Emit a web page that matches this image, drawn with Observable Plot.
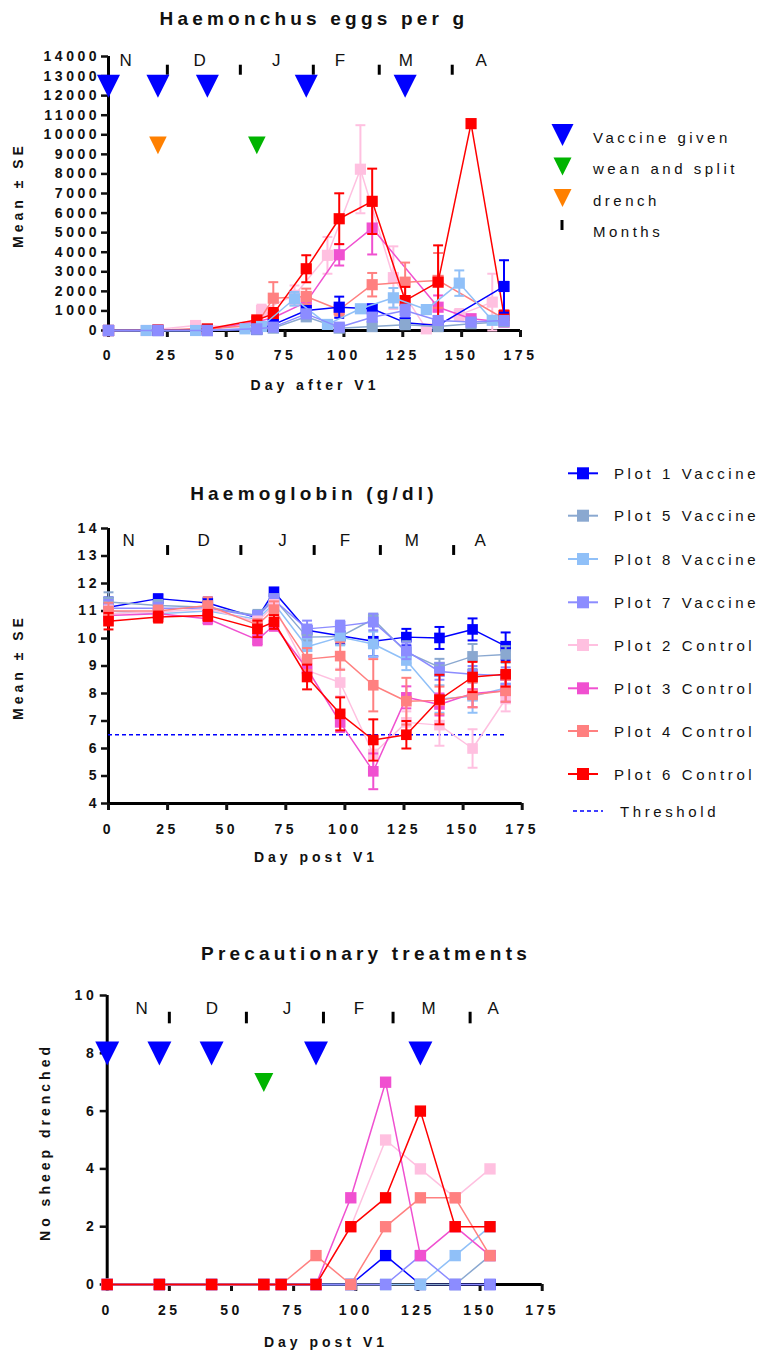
<!DOCTYPE html>
<html>
<head>
<meta charset="utf-8">
<script src="https://cdn.jsdelivr.net/npm/d3@7"></script>
<script src="https://cdn.jsdelivr.net/npm/@observablehq/plot@0.6"></script>
<style>
  body { margin: 0; background: #fff; }
  #root { position: relative; width: 758px; height: 1356px; overflow: hidden; background: #fff; }
  #overlay { position: absolute; left: 0; top: 0; pointer-events: none; }
</style>
</head>
<body>
<div id="root"></div>
<script>
// ---------------- DATA ----------------
const seriesNames = ["Plot 1 Vaccine", "Plot 5 Vaccine", "Plot 8 Vaccine", "Plot 7 Vaccine",
                     "Plot 2 Control", "Plot 3 Control", "Plot 4 Control", "Plot 6 Control"];
const xTicks = [0, 25, 50, 75, 100, 125, 150, 175];
const monthLetters = ["N", "D", "J", "F", "M", "A"];
const monthTickDays = [25, 56, 87, 115, 146];
const vaccineDays = [0, 21, 42, 84, 126];
const weanDays = [63];
const drenchDays = [21];

// Chart 1: Haemonchus eggs per g (mean ± SE)
const eggTicks = [0,1000,2000,3000,4000,5000,6000,7000,8000,9000,10000,11000,12000,13000,14000];
const eggLetterDays = [8, 39.5, 72, 99, 127, 159];
const eggDays = [0, 21, 42, 63, 70, 84, 98, 112, 126, 140, 154, 168];
const eggDaysEarly = [0, 16, 37, 58, 65, 79, 93, 107, 121, 135, 149, 163];
const eggP1 = [0, 0, 0, 50, 300, 1020, 1190, 1110, 400, 260, null, 2250];
const eggP1se = [0, 0, 0, 20, 80, 150, 540, 200, 150, 100, 0, 1340];
const eggP5 = [0, 0, 0, 60, 120, 700, 120, 200, 300, 200, 350, 450];
const eggP5se = [0, 0, 0, 20, 40, 150, 50, 80, 100, 80, 100, 150];
const eggP8 = [0, 0, 0, 85, 205, 1620, 310, 1110, 1670, 1070, 2420, 520];
const eggP8se = [0, 0, 0, 30, 60, 350, 100, 150, 500, 150, 650, 150];
const eggP7 = [0, 0, 0, 85, 170, 850, 170, 680, 1020, 510, 430, 510];
const eggP7se = [0, 0, 0, 30, 50, 200, 80, 150, 300, 150, 100, 150];
const eggP2 = [0, 0, 255, 170, 1020, 1800, 3840, 8240, 2700, 85, 800, 1450];
const eggP2se = [0, 0, 80, 80, 300, 500, 940, 2250, 1600, 100, 300, 1450];
const eggP3 = [0, 10, 40, 450, 650, 1450, 3870, 5235, null, 1190, 600, 430];
const eggP3se = [0, 5, 20, 100, 200, 400, 550, 1350, 0, 600, 200, 150];
const eggP4 = [0, 10, 60, 300, 1650, 1740, 1060, 2340, 2470, 2560, null, 600];
const eggP4se = [0, 5, 20, 100, 820, 400, 300, 600, 1000, 1400, 0, 200];
const eggP6 = [0, 20, 80, 540, 850, 3155, 5710, 6600, 1530, 2470, 10570, 770];
const eggP6se = [0, 10, 30, 150, 300, 690, 1300, 1670, 700, 1880, 0, 250];

// Chart 2: Haemoglobin (g/dl)
const hbTicks = [4, 5, 6, 7, 8, 9, 10, 11, 12, 13, 14];
const hbLetterDays = [9.3, 41, 74.3, 100.8, 129, 158];
const hbThreshold = 6.5;
const hbThresholdEnd = 168;
const hbDays = [0, 21, 42, 63, 70, 84, 98, 112, 126, 140, 154, 168];
const hbP1 = [11.14, 11.45, 11.29, 10.75, 11.7, 10.3, 10.1, 9.9, 10.05, 10.02, 10.33, 9.72];
const hbP1se = [0.35, 0.15, 0.2, 0.2, 0.1, 0.15, 0.3, 0.55, 0.3, 0.4, 0.4, 0.5];
const hbP5 = [11.33, 11.2, 11.14, 10.84, 11.45, 10.05, 10.07, 10.7, 9.5, 8.96, 9.35, 9.42];
const hbP5se = [0.35, 0.2, 0.2, 0.2, 0.15, 0.4, 0.3, 0.2, 0.4, 0.3, 0.45, 0.3];
const hbP8 = [11.0, 10.9, 11.0, 10.7, 11.27, 9.7, 10.05, 9.8, 9.2, 7.8, 7.9, 8.2];
const hbP8se = [0.3, 0.2, 0.2, 0.2, 0.2, 0.3, 0.3, 0.45, 0.35, 0.5, 0.6, 0.3];
const hbP7 = [11.1, 11.1, 11.1, 10.8, 11.4, 10.35, 10.45, 10.6, 9.55, 8.8, 8.7, 8.65];
const hbP7se = [0.3, 0.2, 0.2, 0.2, 0.2, 0.3, 0.2, 0.3, 0.3, 0.3, 0.3, 0.3];
const hbP2 = [10.9, 10.96, 11.08, 10.6, 11.2, 8.84, 8.4, 5.8, 6.95, 6.85, 6.0, 7.8];
const hbP2se = [0.3, 0.2, 0.2, 0.2, 0.2, 0.3, 0.5, 0.6, 0.4, 0.75, 0.7, 0.45];
const hbP3 = [10.84, 10.9, 10.72, 9.95, 10.48, 8.9, 6.95, 5.17, 7.86, 7.6, 8.0, 8.1];
const hbP3se = [0.2, 0.2, 0.2, 0.2, 0.2, 0.3, 0.35, 0.65, 0.4, 0.4, 0.5, 0.4];
const hbP4 = [11.0, 11.0, 11.2, 10.5, 11.05, 9.25, 9.36, 8.3, 7.72, 7.75, 7.95, 8.1];
const hbP4se = [0.3, 0.2, 0.3, 0.2, 0.3, 0.4, 0.5, 0.95, 0.85, 0.5, 0.45, 0.4];
const hbP6 = [10.63, 10.78, 10.84, 10.35, 10.6, 8.6, 7.26, 6.31, 6.5, 7.78, 8.6, 8.7];
const hbP6se = [0.3, 0.2, 0.2, 0.3, 0.25, 0.45, 0.6, 0.75, 0.5, 0.9, 0.55, 0.45];

// Chart 3: Precautionary treatments (no. sheep drenched)
const drTicks = [0, 2, 4, 6, 8, 10];
const drLetterDays = [14.6, 42.8, 73, 102, 130, 156];
const drDays = [0, 21, 42, 63, 70, 84, 98, 112, 126, 140, 154];
const drP1 = [0, 0, 0, 0, 0, 0, 0, 1, 0, 0, 0];
const drP5 = [0, 0, 0, 0, 0, 0, 0, 0, 0, 0, 1];
const drP8 = [0, 0, 0, 0, 0, 0, 0, 0, 0, 1, 2];
const drP7 = [0, 0, 0, 0, 0, 0, 0, 0, 1, 0, 0];
const drP2 = [0, 0, 0, 0, 0, 0, 2, 5, 4, 3, 4];
const drP3 = [0, 0, 0, 0, 0, 0, 3, 7, 1, 2, 1];
const drP4 = [0, 0, 0, 0, 0, 1, 0, 2, 3, 3, 1];
const drP6 = [0, 0, 0, 0, 0, 0, 2, 3, 6, 2, 2];

// ---------------- STYLE ----------------
const colors = {
  "Plot 1 Vaccine": "#0000ff", "Plot 5 Vaccine": "#8aa8d0", "Plot 8 Vaccine": "#90c0f8",
  "Plot 7 Vaccine": "#8c8cff", "Plot 2 Control": "#ffc0e0", "Plot 3 Control": "#f050d0",
  "Plot 4 Control": "#ff8080", "Plot 6 Control": "#ff0000"
};
const FONT = "'Liberation Sans', Arial, Helvetica, sans-serif";

function rows(days, vals, se) {
  return days.map((d, i) => ({day: d, v: vals[i], se: se ? se[i] : 0})).filter(r => r.v != null);
}

const downTri = {draw(ctx, size) { const w = Math.sqrt(size); ctx.moveTo(-w/2, -w/2); ctx.lineTo(w/2, -w/2); ctx.lineTo(0, w/2); ctx.closePath(); }};
const capSym = {draw(ctx, size) { const w = Math.sqrt(size); ctx.moveTo(-w/2, 0); ctx.lineTo(w/2, 0); }};

function seriesMarks(data, color, o) {
  const withSE = data.filter(d => d.se > 0);
  return [
    Plot.line(data, {x: "day", y: "v", stroke: color, strokeWidth: o.lw}),
    Plot.ruleX(withSE, {x: "day", y1: d => Math.max(o.ymin, d.v - d.se), y2: d => d.v + d.se, stroke: color, strokeWidth: 2}),
    Plot.dot(withSE, {x: "day", y: d => d.v + d.se, symbol: capSym, r: 5.6, stroke: color, strokeWidth: 2, fill: "none"}),
    Plot.dot(withSE, {x: "day", y: d => Math.max(o.ymin, d.v - d.se), symbol: capSym, r: 5.6, stroke: color, strokeWidth: 2, fill: "none"}),
    Plot.dot(data, {x: "day", y: "v", symbol: "square", r: o.sq, fill: color, stroke: "none"})
  ];
}

function baseStyle(top, left) {
  return {position: "absolute", top: top + "px", left: left + "px", fontFamily: FONT, fontSize: "14px",
          fontWeight: "bold", letterSpacing: "3.5px", color: "#111", background: "transparent", overflow: "visible"};
}

function axesMarks(yTicks, yMax, xPad, yPad) {
  return [
    Plot.ruleX([0], {y1: 0, y2: yMax, strokeWidth: 3, stroke: "#000"}),
    Plot.ruleY([0], {x1: 0, x2: 175, strokeWidth: 3, stroke: "#000"}),
    Plot.axisY({ticks: yTicks, tickSize: 7, tickPadding: yPad, strokeWidth: 2.5, tickFormat: "d", label: null, fill: "#111"}),
    Plot.axisX({ticks: xTicks, tickSize: 7, tickPadding: xPad, strokeWidth: 3, tickFormat: "d", label: null, fill: "#111"})
  ];
}

function monthMarks(letterDays, tickY1, tickY2, letterY) {
  return [
    Plot.ruleX(monthTickDays, {y1: tickY1, y2: tickY2, strokeWidth: 3, stroke: "#000"}),
    Plot.text(monthLetters, {x: letterDays, y: letterY, text: d => d, fontSize: 17, fontWeight: "normal", fill: "#111"})
  ];
}

const root = document.getElementById("root");

// ---------- Chart 1 ----------
const eggSeries = {
  "Plot 1 Vaccine": rows(eggDays, eggP1, eggP1se), "Plot 5 Vaccine": rows(eggDays, eggP5, eggP5se),
  "Plot 8 Vaccine": rows(eggDaysEarly, eggP8, eggP8se), "Plot 7 Vaccine": rows(eggDays, eggP7, eggP7se),
  "Plot 2 Control": rows(eggDaysEarly, eggP2, eggP2se), "Plot 3 Control": rows(eggDays, eggP3, eggP3se),
  "Plot 4 Control": rows(eggDays, eggP4, eggP4se), "Plot 6 Control": rows(eggDays, eggP6, eggP6se)
};
const eggOrder = ["Plot 2 Control", "Plot 3 Control", "Plot 4 Control", "Plot 6 Control",
                  "Plot 1 Vaccine", "Plot 5 Vaccine", "Plot 8 Vaccine", "Plot 7 Vaccine"];
root.appendChild(Plot.plot({
  width: 540, height: 372, marginLeft: 108, marginRight: 20, marginTop: 56, marginBottom: 42,
  x: {domain: [0, 175]}, y: {domain: [0, 14000]},
  style: baseStyle(0, 0),
  marks: [
    ...axesMarks(eggTicks, 14000, 13, 1.5),
    ...monthMarks(eggLetterDays, 13043, 13555, 13775),
    Plot.dot(vaccineDays, {x: d => d, y: 12480, symbol: downTri, r: 13, fill: "#0000ff"}),
    Plot.dot(drenchDays, {x: d => d, y: 9460, symbol: downTri, r: 9.9, fill: "#ff8000"}),
    Plot.dot(weanDays, {x: d => d, y: 9460, symbol: downTri, r: 9.9, fill: "#00b400"}),
    ...eggOrder.flatMap(n => seriesMarks(eggSeries[n], colors[n], {lw: 1.5, sq: 6.3, ymin: 0}))
  ]
}));

// ---------- Chart 2 ----------
const hbSeries = {
  "Plot 1 Vaccine": rows(hbDays, hbP1, hbP1se), "Plot 5 Vaccine": rows(hbDays, hbP5, hbP5se),
  "Plot 8 Vaccine": rows(hbDays, hbP8, hbP8se), "Plot 7 Vaccine": rows(hbDays, hbP7, hbP7se),
  "Plot 2 Control": rows(hbDays, hbP2, hbP2se), "Plot 3 Control": rows(hbDays, hbP3, hbP3se),
  "Plot 4 Control": rows(hbDays, hbP4, hbP4se), "Plot 6 Control": rows(hbDays, hbP6, hbP6se)
};
const legendOrder = seriesNames;
root.appendChild(Plot.plot({
  width: 540, height: 370, marginLeft: 108, marginRight: 18.3, marginTop: 48, marginBottom: 47,
  x: {domain: [0, 175]}, y: {domain: [4, 14]},
  style: baseStyle(480, 0),
  marks: [
    Plot.ruleX([0], {y1: 4, y2: 14, strokeWidth: 3, stroke: "#000"}),
    Plot.ruleY([4], {x1: 0, x2: 175, strokeWidth: 3, stroke: "#000"}),
    Plot.axisY({ticks: hbTicks, tickSize: 7, tickPadding: 1.5, strokeWidth: 2.5, tickFormat: "d", label: null, fill: "#111"}),
    Plot.axisX({ticks: xTicks, tickSize: 7, tickPadding: 14, strokeWidth: 3, tickFormat: "d", label: null, fill: "#111"}),
    ...monthMarks(hbLetterDays, 13.02, 13.38, 13.56),
    Plot.ruleY([hbThreshold], {x1: 0, x2: hbThresholdEnd, stroke: "#0000ff", strokeWidth: 1.5, strokeDasharray: "4,3"}),
    ...legendOrder.flatMap(n => seriesMarks(hbSeries[n], colors[n], {lw: 1.5, sq: 6.0, ymin: 4}))
  ]
}));

// ---------- Chart 3 ----------
const drSeries = {
  "Plot 1 Vaccine": rows(drDays, drP1), "Plot 5 Vaccine": rows(drDays, drP5),
  "Plot 8 Vaccine": rows(drDays, drP8), "Plot 7 Vaccine": rows(drDays, drP7),
  "Plot 2 Control": rows(drDays, drP2), "Plot 3 Control": rows(drDays, drP3),
  "Plot 4 Control": rows(drDays, drP4), "Plot 6 Control": rows(drDays, drP6)
};
root.appendChild(Plot.plot({
  width: 560, height: 360, marginLeft: 106.7, marginRight: 18.3, marginTop: 35, marginBottom: 36,
  x: {domain: [0, 175]}, y: {domain: [0, 10]},
  style: baseStyle(960, 0),
  marks: [
    ...axesMarks(drTicks, 10, 14, 3),
    ...monthMarks(drLetterDays, 9.02, 9.42, 9.54),
    Plot.dot(vaccineDays, {x: d => d, y: 7.99, symbol: downTri, r: 13.5, fill: "#0000ff"}),
    Plot.dot(weanDays, {x: d => d, y: 6.99, symbol: downTri, r: 10.7, fill: "#00b400"}),
    ...legendOrder.flatMap(n => seriesMarks(drSeries[n], colors[n], {lw: 1.5, sq: 6.4, ymin: 0}))
  ]
}));

// ---------- Overlay: titles, axis labels, legends ----------
const ov = d3.select(root).append("svg").attr("id", "overlay")
  .attr("width", 758).attr("height", 1356)
  .style("font-family", FONT);

function txt(x, y, s, o = {}) {
  const t = ov.append("text").attr("x", x).attr("y", y).text(s)
    .attr("text-anchor", o.anchor || "start")
    .style("font-size", (o.size || 14) + "px")
    .style("font-weight", o.weight || "normal")
    .style("letter-spacing", (o.ls || 0) + "px")
    .attr("fill", "#111");
  if (o.rotate) t.attr("transform", `rotate(-90 ${x} ${y})`);
  return t;
}

// titles
txt(314, 25, "Haemonchus eggs per g", {anchor: "middle", size: 19, weight: "bold", ls: 4.2});
txt(314, 500, "Haemoglobin (g/dl)", {anchor: "middle", size: 19, weight: "bold", ls: 4.2});
txt(366, 960, "Precautionary treatments", {anchor: "middle", size: 19, weight: "bold", ls: 4.2});

// axis labels
txt(315, 390, "Day after V1", {anchor: "middle", size: 14, weight: "bold", ls: 4});
txt(316, 862, "Day post V1", {anchor: "middle", size: 14, weight: "bold", ls: 4});
txt(326, 1347, "Day post V1", {anchor: "middle", size: 14, weight: "bold", ls: 4});
txt(23, 195, "Mean ± SE", {anchor: "middle", size: 14, weight: "bold", ls: 4, rotate: true});
txt(23, 667, "Mean ± SE", {anchor: "middle", size: 14, weight: "bold", ls: 4, rotate: true});
txt(50, 1142, "No sheep drenched", {anchor: "middle", size: 14, weight: "bold", ls: 4, rotate: true});

// legend 1 (markers)
function triPath(cx, cy, w) {
  return `M${cx - w/2},${cy - w/2}L${cx + w/2},${cy - w/2}L${cx},${cy + w/2}Z`;
}
const leg1 = [
  {shape: "tri", color: "#0000ff", w: 22, cy: 135, label: "Vaccine given", base: 143.3},
  {shape: "tri", color: "#00b400", w: 18, cy: 166.5, label: "wean and split", base: 174},
  {shape: "tri", color: "#ff8000", w: 18, cy: 198, label: "drench", base: 205.7},
  {shape: "tick", color: "#000", w: 0, cy: 225, label: "Months", base: 236.7}
];
leg1.forEach(d => {
  if (d.shape === "tri") ov.append("path").attr("d", triPath(562.5, d.cy, d.w)).attr("fill", d.color);
  else ov.append("line").attr("x1", 562).attr("x2", 562).attr("y1", 220).attr("y2", 230).attr("stroke", "#000").attr("stroke-width", 3);
  txt(593, d.base, d.label, {size: 15, ls: 3.5});
});

// legend 2 (series)
const leg2Y = [473.3, 515.7, 559, 602.3, 645, 688.3, 731, 774];
seriesNames.forEach((n, i) => {
  const y = leg2Y[i];
  ov.append("line").attr("x1", 568).attr("x2", 598).attr("y1", y).attr("y2", y).attr("stroke", colors[n]).attr("stroke-width", 2);
  ov.append("rect").attr("x", 577).attr("y", y - 6).attr("width", 12).attr("height", 12).attr("fill", colors[n]);
  txt(614, y + 5.5, n, {size: 15, ls: 3.6});
});
ov.append("line").attr("x1", 573).attr("x2", 603).attr("y1", 811).attr("y2", 811)
  .attr("stroke", "#0000ff").attr("stroke-width", 1.5).attr("stroke-dasharray", "4,3");
txt(620, 817, "Threshold", {size: 15, ls: 3.6});
</script>
</body>
</html>
